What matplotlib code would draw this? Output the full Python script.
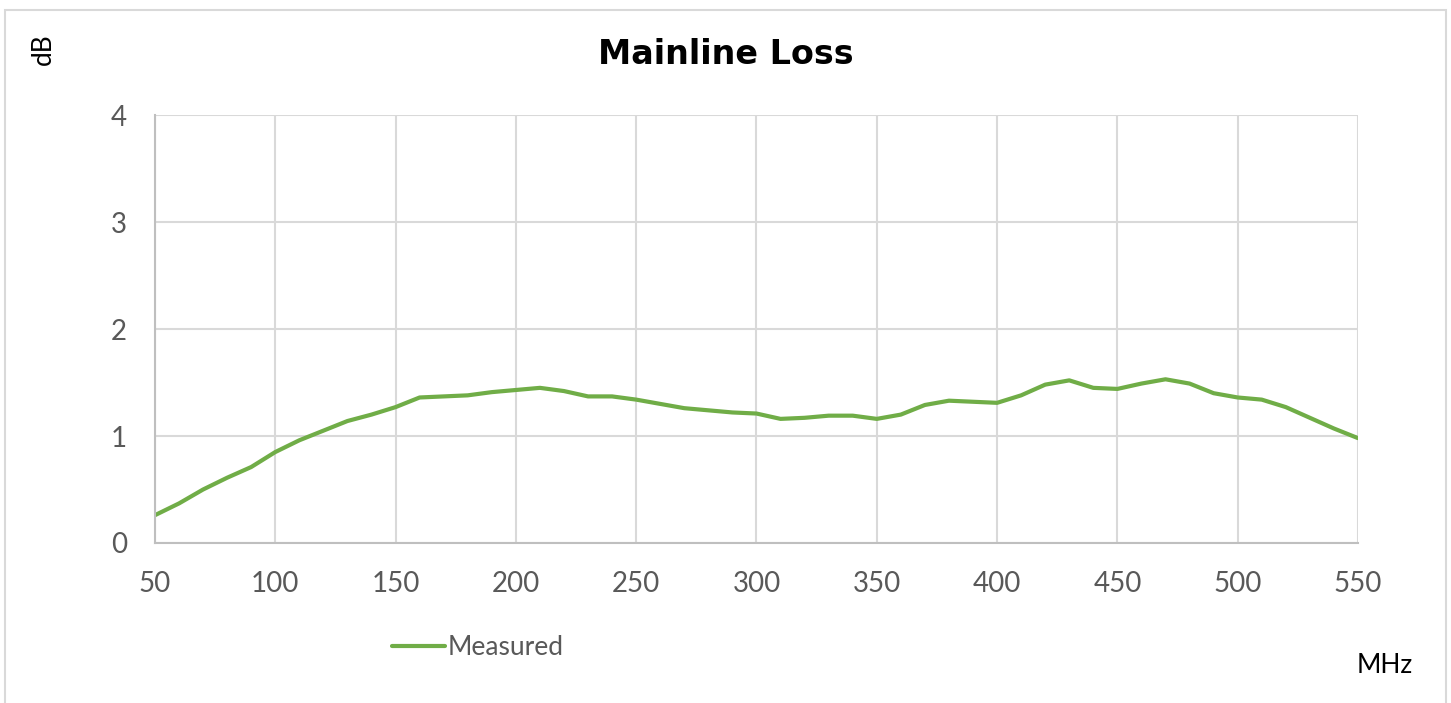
import numpy as np
from matplotlib import pyplot as plt
from matplotlib.patches import Rectangle

freq_mhz = [50, 60, 70, 80, 90, 100, 110, 120, 130, 140, 150, 160, 170, 180, 190,
            200, 210, 220, 230, 240, 250, 260, 270, 280, 290, 300, 310, 320, 330,
            340, 350, 360, 370, 380, 390, 400, 410, 420, 430, 440, 450, 460, 470,
            480, 490, 500, 510, 520, 530, 540, 550]
measured_db = [0.26, 0.37, 0.50, 0.61, 0.71, 0.85, 0.96, 1.05, 1.14, 1.20, 1.27,
               1.36, 1.37, 1.38, 1.41, 1.43, 1.45, 1.42, 1.37, 1.37, 1.34, 1.30,
               1.26, 1.24, 1.22, 1.21, 1.16, 1.17, 1.19, 1.19, 1.16, 1.20, 1.29,
               1.33, 1.32, 1.31, 1.38, 1.48, 1.52, 1.45, 1.44, 1.49, 1.53, 1.49,
               1.40, 1.36, 1.34, 1.27, 1.17, 1.07, 0.98]

x_ticks = [50, 100, 150, 200, 250, 300, 350, 400, 450, 500, 550]
y_ticks = [0, 1, 2, 3, 4]

plt.rcParams['font.family'] = ['Lato', 'DejaVu Sans']

fig = plt.figure(figsize=(14.51, 7.03), dpi=100)
ax = fig.add_axes([0.1068, 0.2276, 0.8291, 0.6088])

line, = ax.plot(freq_mhz, measured_db, color='#70AD47', linewidth=3,
                solid_joinstyle='round', solid_capstyle='round', label='Measured')

ax.set_xlim(50, 550)
ax.set_ylim(0, 4)
ax.set_xticks(x_ticks)
ax.set_yticks(y_ticks)
ax.grid(True, color='#d9d9d9', linewidth=1.5)
ax.set_axisbelow(True)
for s in ['top', 'right']:
    ax.spines[s].set_visible(False)
for s in ['left', 'bottom']:
    ax.spines[s].set_color('#bfbfbf')
    ax.spines[s].set_linewidth(1.5)
ax.tick_params(axis='x', length=0, labelsize=20, labelcolor='#595959', pad=20)
ax.tick_params(axis='y', length=0, labelsize=20, labelcolor='#595959', pad=20)

fig.text(0.5, 0.923, 'Mainline Loss', ha='center', va='center',
         fontsize=24, fontweight='bold', color='black', family='DejaVu Sans')
fig.text(0.03, 0.93, 'dB', rotation=90, ha='center', va='center',
         fontsize=19, color='black')
fig.text(0.9545, 0.053, 'MHz', ha='center', va='center', fontsize=19, color='black')

fig.legend(handles=[line], loc='center left', bbox_to_anchor=(0.254, 0.079),
           frameon=False, fontsize=19, labelcolor='#595959',
           handlelength=2.0, handletextpad=0.1)

fig.patches.append(Rectangle((0.0035, -0.05), 0.993, 1.036, transform=fig.transFigure,
                             fill=False, edgecolor='#d9d9d9', linewidth=1.5))

plt.savefig('out.png')
